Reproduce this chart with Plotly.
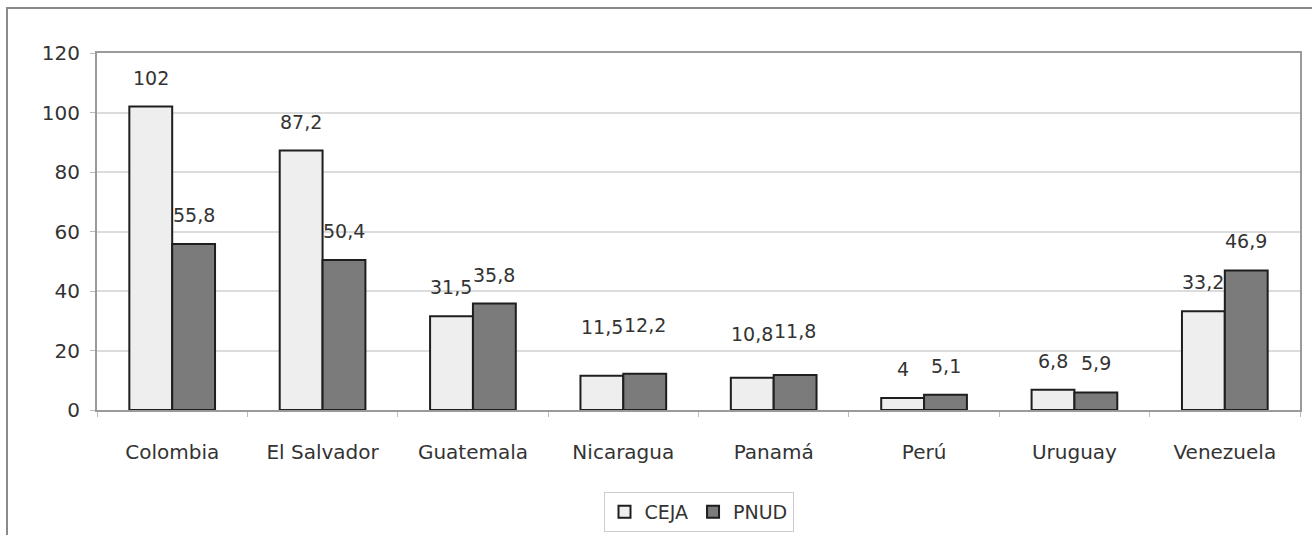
import plotly.graph_objects as go

# Countries and values for the two sources
countries = ["Colombia", "El Salvador", "Guatemala", "Nicaragua",
             "Panamá", "Perú", "Uruguay", "Venezuela"]
ceja = [102, 87.2, 31.5, 11.5, 10.8, 4, 6.8, 33.2]
pnud = [55.8, 50.4, 35.8, 12.2, 11.8, 5.1, 5.9, 46.9]
y_ticks = [0, 20, 40, 60, 80, 100, 120]

FONT = "DejaVu Sans"
TEXT = "#333333"
W, H = 1312, 535
L, R, T, B = 97, 12, 53, 125

# extra vertical gap (px) for value labels of the smaller groups
label_lift = {"Nicaragua": 20, "Panamá": 15}


def fmt(v):
    s = f"{v:g}"
    return s.replace(".", ",")


fig = go.Figure()
fig.add_trace(go.Bar(
    name="CEJA", x=countries, y=ceja,
    marker=dict(color="#eeeeee", line=dict(color="#1e1e1e", width=2)),
))
fig.add_trace(go.Bar(
    name="PNUD", x=countries, y=pnud,
    marker=dict(color="#7b7b7b", line=dict(color="#1e1e1e", width=2)),
))

# value labels above each bar
bar_half = 21.5
for series, shift in ((ceja, -bar_half), (pnud, bar_half)):
    for c, v in zip(countries, series):
        fig.add_annotation(
            x=c, y=v, text=fmt(v), showarrow=False,
            xshift=shift, yshift=16 + label_lift.get(c, 0),
            yanchor="bottom", xanchor="center",
            font=dict(family=FONT, size=19, color=TEXT),
        )

# outer frame around the chart (top and left edges visible)
pw, ph = W - L - R, H - T - B
fig.add_shape(
    type="rect", xref="paper", yref="paper",
    x0=(7 - L) / pw, x1=(W + 20 - L) / pw,
    y0=(H - B - (H + 20)) / ph, y1=(H - B - 8) / ph,
    line=dict(color="#8a8a8a", width=2), fillcolor="rgba(0,0,0,0)",
    layer="below",
)

fig.update_layout(
    width=W, height=H,
    margin=dict(l=L, r=R, t=T, b=B, pad=0, autoexpand=False),
    paper_bgcolor="white", plot_bgcolor="white",
    barmode="group", bargap=0.43, bargroupgap=0,
    font=dict(family=FONT, size=19, color=TEXT),
    showlegend=True,
    legend=dict(
        orientation="h", x=0.5, xanchor="center",
        y=(H - B - 512) / ph, yanchor="middle",
        bordercolor="#cccccc", borderwidth=1,
        font=dict(family=FONT, size=19, color=TEXT),
        itemwidth=30, tracegroupgap=0,
    ),
    xaxis=dict(
        showline=True, linecolor="#9a9a9a", linewidth=2, mirror=True,
        ticks="outside", tickson="boundaries", ticklen=5,
        tickcolor="#bbbbbb", tickwidth=1,
        ticklabelstandoff=23, automargin=False,
        tickfont=dict(family=FONT, size=20, color=TEXT),
        showgrid=False,
    ),
    yaxis=dict(
        range=[0, 120], tickvals=y_ticks,
        showline=True, linecolor="#9a9a9a", linewidth=2, mirror=True,
        ticks="outside", ticklen=5, tickcolor="#bbbbbb",
        ticklabelstandoff=6, automargin=False,
        showgrid=True, gridcolor="#dcdcdc", gridwidth=2,
        zeroline=False,
        tickfont=dict(family=FONT, size=20, color=TEXT),
    ),
)

fig.write_html("out.html")
